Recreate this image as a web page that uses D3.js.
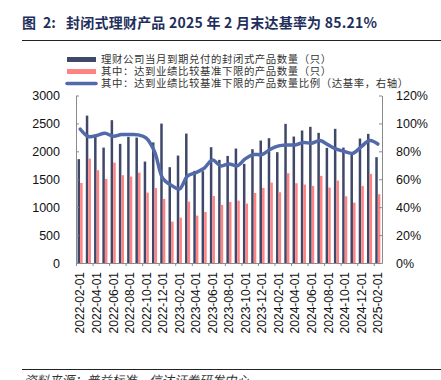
<!DOCTYPE html>
<html><head><meta charset="utf-8">
<script src="https://cdn.jsdelivr.net/npm/d3@7/dist/d3.min.js"></script>
<style>
html,body{margin:0;padding:0;background:#fff;}
svg{display:block;}
</style></head>
<body><svg id="chart" width="441" height="380"></svg>
<script>
const months = ["2022-02-01","2022-03-01","2022-04-01","2022-05-01","2022-06-01","2022-07-01","2022-08-01","2022-09-01","2022-10-01","2022-11-01","2022-12-01",
"2023-01-01","2023-02-01","2023-03-01","2023-04-01","2023-05-01","2023-06-01","2023-07-01","2023-08-01","2023-09-01","2023-10-01","2023-11-01","2023-12-01",
"2024-01-01","2024-02-01","2024-03-01","2024-04-01","2024-05-01","2024-06-01","2024-07-01","2024-08-01","2024-09-01","2024-10-01","2024-11-01","2024-12-01",
"2025-01-01","2025-02-01"];
const maturing = [1860,2640,2265,2067,2558,2134,2259,2247,1817,2160,2497,1716,1924,2318,1650,1644,2074,1847,1918,2050,1775,2038,2193,2235,1985,2492,2265,2373,2439,2331,2062,2403,2067,1960,2229,2313,1895];
const reached = [1434,1870,1662,1506,1798,1572,1548,1619,1261,1342,1147,741,813,1100,849,914,1201,1040,1094,1117,1064,1255,1345,1440,1267,1608,1428,1405,1381,1560,1351,1476,1195,1082,1381,1596,1232];
const ratio = [96,90.6,91.3,93,90.8,92,92,91.8,89.5,79.8,60.5,55.8,53,62.4,64.8,67.9,73.8,69.6,71,69.6,74.8,77.7,77.7,81.5,83.9,84.6,84.6,86.3,85.8,87.7,84.6,81.5,79.8,78.6,83.4,87.7,85.21];
const leftTicks = [0,500,1000,1500,2000,2500,3000];
const rightTicks = [0,20,40,60,80,100,120];
const seriesNames = ["理财公司当月到期兑付的封闭式产品数量（只）","其中：达到业绩比较基准下限的产品数量（只）","其中：达到业绩比较基准下限的产品数量比例（达基率，右轴）"];
const titleParts = ["图", "2:", "封闭式理财产品 2025 年 2 月末达基率为 85.21%"];
const sourceText = "资料来源：普益标准，信达证券研发中心";

const C_DARK = "#3f4869", C_PINK = "#ff8383", C_LINE = "#5269aa", C_AXIS = "#8a8a8a";
const svg = d3.select("#chart");
const L = 76, R = 382, B = 263, T = 95.5;
const x = d3.scaleBand().domain(months).range([L, R]).padding(0);
const yL = d3.scaleLinear().domain([0,3000]).range([B, T]);
const yR = d3.scaleLinear().domain([0,120]).range([B, T]);
const bw = x.bandwidth();
const latin = "'Liberation Sans', Arial, sans-serif";
const cjk = "'Noto Sans CJK SC', sans-serif";

// title
const title = svg.append("text").attr("y",28).attr("font-family",cjk).attr("font-weight","bold")
  .attr("font-size",14).attr("fill","#1f2f5c");
title.append("tspan").attr("x",22).text(titleParts[0]);
title.append("tspan").attr("x",43).text(titleParts[1]);
title.append("tspan").attr("x",66).attr("textLength",311).attr("lengthAdjust","spacing").text(titleParts[2]);
svg.append("line").attr("x1",22).attr("x2",441).attr("y1",40.5).attr("y2",40.5).attr("stroke","#222").attr("stroke-width",1);

// bars
svg.append("g").selectAll("rect").data(months).join("rect")
  .attr("x",(d)=>x(d)+bw/2-2.6).attr("width",2.5)
  .attr("y",(d,i)=>yL(maturing[i])).attr("height",(d,i)=>B-yL(maturing[i])).attr("fill",C_DARK);
svg.append("g").selectAll("rect").data(months).join("rect")
  .attr("x",(d)=>x(d)+bw/2).attr("width",2.5)
  .attr("y",(d,i)=>yL(reached[i])).attr("height",(d,i)=>B-yL(reached[i])).attr("fill",C_PINK);

// line
const line = d3.line().x((d,i)=>x(months[i])+bw/2).y(d=>yR(d)).curve(d3.curveCatmullRom.alpha(0.5));
svg.append("path").datum(ratio).attr("d",line).attr("fill","none").attr("stroke",C_LINE)
  .attr("stroke-width",3.5).attr("stroke-linejoin","round").attr("stroke-linecap","round");

// axes
function styleAxis(g){
  g.select(".domain").attr("stroke",C_AXIS);
  g.selectAll(".tick line").attr("stroke",C_AXIS);
  g.selectAll("text").attr("font-family",latin).attr("font-size",12.5).attr("fill","#111");
}
svg.append("g").attr("transform",`translate(${L},0)`)
  .call(d3.axisLeft(yL).tickValues(leftTicks).tickSize(-3).tickSizeOuter(0).tickPadding(16).tickFormat(d3.format("d")))
  .call(styleAxis);
svg.append("g").attr("transform",`translate(${R},0)`)
  .call(d3.axisRight(yR).tickValues(rightTicks).tickSize(-3).tickSizeOuter(0).tickPadding(14).tickFormat(d=>d+"%"))
  .call(styleAxis);

// bottom axis: tick marks at boundaries every 2 months
const xb = d3.scaleLinear().domain([0,months.length]).range([L,R]);
const bAxis = svg.append("g").attr("transform",`translate(0,${B})`)
  .call(d3.axisBottom(xb).tickValues(d3.range(0,months.length,2)).tickSize(3).tickSizeOuter(0).tickFormat(""));
bAxis.select(".domain").attr("stroke",C_AXIS);
bAxis.selectAll(".tick line").attr("stroke",C_AXIS);
const labelMonths = months.filter((d,i)=>i%2===0);
svg.append("g").selectAll("text").data(labelMonths).join("text")
  .attr("transform",d=>`translate(${x(d)+bw/2},${B+9}) rotate(-90)`)
  .attr("text-anchor","end").attr("dy","0.36em")
  .attr("font-family",latin).attr("font-size",12).attr("fill","#111").text(d=>d);

// legend
const lg = svg.append("g").attr("font-family",cjk).attr("font-size",10.4).attr("fill","#333");
const ly = [59.5,71.5,83.5];
lg.append("rect").attr("x",67).attr("y",ly[0]-2.5).attr("width",29).attr("height",5).attr("fill",C_DARK);
lg.append("rect").attr("x",67).attr("y",ly[1]-2.5).attr("width",29).attr("height",5).attr("fill",C_PINK);
lg.append("line").attr("x1",67).attr("x2",96).attr("y1",ly[2]).attr("y2",ly[2]).attr("stroke",C_LINE).attr("stroke-width",3.5).attr("stroke-linecap","round");
seriesNames.forEach((s,i)=>{
  lg.append("text").attr("x",101).attr("y",ly[i]).attr("dy","0.36em").attr("fill","#333")
    .attr("letter-spacing",0.6).text(s);
});

// source
svg.append("line").attr("x1",22).attr("x2",441).attr("y1",369.5).attr("y2",369.5).attr("stroke","#222").attr("stroke-width",1);
svg.append("text").attr("x",24).attr("y",385).attr("font-family",cjk).attr("font-style","italic")
  .attr("font-size",12.5).attr("fill","#333").text(sourceText);
</script></body></html>
